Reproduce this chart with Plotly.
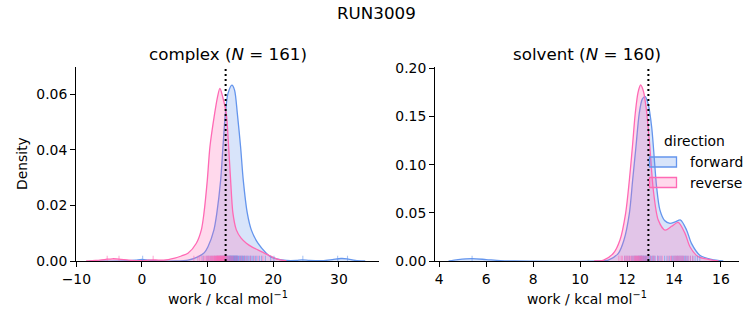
import plotly.graph_objects as go

# ---------------- data ----------------
# complex phase KDE curves
cx_fwd_x = [-8, -3, -1, 0, 1, 3, 5, 7, 8.5, 9.5, 10.05, 10.96, 11.4, 11.98, 12.33, 12.7, 13.1, 13.7,
            14.1, 14.52, 15.02, 15.43, 16.04, 16.65, 17.66, 18.93, 19.6, 20.5, 22, 23.5, 24.4, 25.5,
            27.5, 29, 30.3, 31.2, 32.5, 34]
cx_fwd_d = [0, 0, 0.0003, 0.0006, 0.0003, 0, 0, 0.0003, 0.0015, 0.003, 0.0051, 0.0112, 0.0172, 0.029,
            0.041, 0.053, 0.0603, 0.0633, 0.0615, 0.0531, 0.041, 0.029, 0.0172, 0.0112, 0.0064, 0.0028,
            0.0015, 0.0008, 0.0002, 0.0002, 0.0004, 0.0002, 0.0001, 0.0005, 0.0009, 0.0008, 0.0002, 0]
cx_rev_x = [-8.5, -7, -5.5, -4.5, -3.5, -2, -0.5, 1, 1.7, 2.5, 4, 5, 6, 7, 8.28, 9.04, 9.44, 9.95,
            10.35, 11.07, 11.5, 11.87, 12.3, 12.84, 13.2, 13.5, 13.85, 14.37, 15.1, 15.9, 16.8, 17.65,
            19.2, 20.5, 22]
cx_rev_d = [0, 0.0002, 0.0006, 0.0008, 0.0007, 0.0003, 0.0001, 0.0003, 0.0004, 0.0003, 0.0005, 0.001,
            0.0018, 0.0028, 0.0064, 0.0112, 0.0172, 0.0291, 0.0411, 0.0531, 0.059, 0.0621, 0.059, 0.053,
            0.041, 0.029, 0.0172, 0.0112, 0.0082, 0.0064, 0.005, 0.004, 0.0022, 0.0008, 0]

# solvent phase KDE curves
sv_fwd_x = [4.4, 4.8, 5.4, 6.0, 6.6, 7.2, 10.8, 11.2, 11.63, 11.87, 12.1, 12.24, 12.38, 12.52, 12.65,
            12.77, 12.9, 13.05, 13.26, 13.4, 13.6, 13.83, 14.05, 14.28, 14.54, 14.75, 15.1, 15.6, 16.1]
sv_fwd_d = [0, 0.0015, 0.0025, 0.0015, 0.0004, 0, 0, 0.001, 0.008, 0.0218, 0.0495, 0.084, 0.1186, 0.153,
            0.168, 0.1705, 0.163, 0.139, 0.077, 0.053, 0.042, 0.039, 0.0405, 0.0425, 0.032, 0.018,
            0.006, 0.0017, 0]
sv_rev_x = [10.6, 11.0, 11.42, 11.7, 11.94, 12.1, 12.23, 12.35, 12.47, 12.58, 12.7, 12.82, 12.95, 13.12,
            13.33, 13.62, 13.9, 14.18, 14.47, 14.68, 15.03, 15.46, 15.9]
sv_rev_d = [0, 0.001, 0.008, 0.0218, 0.0495, 0.084, 0.1186, 0.153, 0.175, 0.1826, 0.176, 0.158, 0.1255,
            0.0737, 0.0425, 0.032, 0.036, 0.040, 0.0287, 0.0148, 0.0045, 0.0017, 0]

# rug (individual work values, estimated)
cx_fwd_rug = [0.1, 9.3, 9.9, 10.2, 10.5, 10.8, 11.1, 11.3, 11.5, 11.7, 11.9, 12.0, 12.15, 12.3, 12.4,
              12.5, 12.65, 12.8, 12.9, 13.0, 13.05, 13.1, 13.2, 13.3, 13.35, 13.4, 13.45, 13.5, 13.55,
              13.6, 13.65, 13.7, 13.75, 13.8, 13.85, 13.9, 13.95, 14.0, 14.05, 14.1, 14.15, 14.2,
              14.25, 14.3, 14.35, 14.4, 14.45, 14.5, 14.55, 14.6, 14.7, 14.8, 14.9, 15.0, 15.1, 15.2,
              15.3, 15.4, 15.5, 15.6, 15.7, 15.85, 16.0, 16.15, 16.3, 16.5, 16.6, 16.8, 17.0, 17.3,
              17.5, 17.9, 18.2, 18.8, 19.6, 20.1, 24.5, 29.8, 31.3]
cx_rev_rug = [-5.3, -3.5, 1.7, 7.9, 8.5, 8.8, 9.1, 9.4, 9.6, 9.8, 10.0, 10.1, 10.25, 10.4, 10.5, 10.6,
              10.7, 10.8, 10.9, 11.0, 11.05, 11.1, 11.2, 11.3, 11.35, 11.4, 11.45, 11.5, 11.55, 11.6,
              11.65, 11.7, 11.75, 11.8, 11.85, 11.9, 11.95, 12.0, 12.05, 12.1, 12.15, 12.2, 12.25,
              12.3, 12.35, 12.4, 12.45, 12.5, 12.55, 12.6, 12.7, 12.8, 12.9, 13.0, 13.15, 13.3, 13.45,
              13.6, 13.8, 14.0, 14.3, 14.5, 14.9, 15.2, 15.6, 16.0, 16.5, 17.1, 17.7, 18.4]
sv_fwd_rug = [5.4, 11.9, 12.0, 12.1, 12.2, 12.25, 12.3, 12.35, 12.4, 12.45, 12.5, 12.52, 12.55, 12.58,
              12.6, 12.62, 12.65, 12.68, 12.7, 12.72, 12.75, 12.78, 12.8, 12.82, 12.85, 12.9, 12.95,
              13.0, 13.05, 13.1, 13.15, 13.2, 13.3, 13.35, 13.45, 13.6, 13.7, 13.8, 13.9, 13.95, 14.0,
              14.05, 14.1, 14.15, 14.2, 14.25, 14.3, 14.35, 14.4, 14.45, 14.5, 14.55, 14.6, 14.7,
              14.8, 14.9, 15.0, 15.1]
sv_rev_rug = [11.65, 11.75, 11.8, 11.9, 11.95, 12.0, 12.05, 12.1, 12.15, 12.2, 12.25, 12.3, 12.33, 12.35,
              12.38, 12.4, 12.43, 12.45, 12.48, 12.5, 12.52, 12.55, 12.58, 12.6, 12.63, 12.65, 12.7,
              12.75, 12.8, 12.85, 12.9, 13.0, 13.1, 13.15, 13.3, 13.4, 13.5, 13.75, 13.85, 13.9, 14.0,
              14.05, 14.1, 14.15, 14.2, 14.25, 14.3, 14.35, 14.4, 14.5, 14.6, 14.7, 14.8]

# free energy estimates (dotted lines)
dg_complex = 12.74
dg_solvent = 12.91

panel_titles = ["complex (<i>N</i> = 161)", "solvent (<i>N</i> = 160)"]
directions = ["forward", "reverse"]
legend_title = "direction"

# ---------------- styling ----------------
BLUE = "rgb(100,149,237)"
PINK = "rgb(255,105,180)"
BLUE_F = "rgba(100,149,237,0.25)"
PINK_F = "rgba(255,105,180,0.25)"
BLUE_R = "rgba(100,149,237,0.55)"
PINK_R = "rgba(255,105,180,0.55)"
FONT = "DejaVu Sans"
FS = 13.9
W, H = 753, 325

fig = go.Figure()


def add_kde(x, d, line, fill, xa, ya):
    fig.add_trace(go.Scatter(
        x=x, y=d, mode="lines", fill="tozeroy", fillcolor=fill,
        line=dict(color=line, width=1.3, shape="spline", smoothing=0.8),
        xaxis=xa, yaxis=ya, showlegend=False, hoverinfo="skip"))


def add_rug(vals, color, xa, ya, h):
    fig.add_trace(go.Scatter(
        x=vals, y=[0] * len(vals), mode="markers",
        marker=dict(size=1, color="rgba(0,0,0,0)"),
        error_y=dict(type="data", symmetric=False, array=[h] * len(vals),
                     arrayminus=[0] * len(vals), color=color, thickness=1.1, width=0),
        xaxis=xa, yaxis=ya, showlegend=False, hoverinfo="skip"))


add_kde(cx_fwd_x, cx_fwd_d, BLUE, BLUE_F, "x", "y")
add_kde(cx_rev_x, cx_rev_d, PINK, PINK_F, "x", "y")
add_rug(cx_fwd_rug, BLUE_R, "x", "y", 0.0019)
add_rug(cx_rev_rug, PINK_R, "x", "y", 0.0019)

add_kde(sv_fwd_x, sv_fwd_d, BLUE, BLUE_F, "x2", "y2")
add_kde(sv_rev_x, sv_rev_d, PINK, PINK_F, "x2", "y2")
add_rug(sv_fwd_rug, BLUE_R, "x2", "y2", 0.0055)
add_rug(sv_rev_rug, PINK_R, "x2", "y2", 0.0055)

for dg, xr in [(dg_complex, "x"), (dg_solvent, "x2")]:
    yr = "y domain" if xr == "x" else "y2 domain"
    fig.add_shape(type="line", x0=dg, x1=dg, y0=0, y1=1, xref=xr, yref=yr,
                  line=dict(color="black", width=2, dash="2px,3px"))

ax_common = dict(showline=True, linecolor="black", linewidth=1.1, ticks="outside",
                 ticklen=4.9, tickwidth=1.1, tickcolor="black", showgrid=False, zeroline=False,
                 tickfont=dict(family=FONT, size=FS, color="black"), mirror=False,
                 automargin=False)

ydom = [1 - 261 / H, 1 - 67 / H]
fig.update_layout(
    width=W, height=H, margin=dict(l=0, r=0, t=0, b=0, autoexpand=False),
    paper_bgcolor="white", plot_bgcolor="white",
    font=dict(family=FONT, size=FS, color="black"),
    xaxis=dict(domain=[76 / W, 379 / W], range=[-10.05, 36.1], tickvals=[-10, 0, 10, 20, 30],
               anchor="y", **ax_common),
    yaxis=dict(domain=ydom, range=[0, 0.0698], tickvals=[0, 0.02, 0.04, 0.06],
               tickformat=".2f", anchor="x", **ax_common),
    xaxis2=dict(domain=[435 / W, 739 / W], range=[3.82, 16.77], tickvals=[4, 6, 8, 10, 12, 14, 16],
                anchor="y2", **ax_common),
    yaxis2=dict(domain=ydom, range=[0, 0.2013], tickvals=[0, 0.05, 0.1, 0.15, 0.2],
                tickformat=".2f", anchor="x2", **ax_common),
    showlegend=False,
)

# manual legend (matplotlib-style patches)
for i, (name, line, fill) in enumerate([(directions[0], BLUE, BLUE_F), (directions[1], PINK, PINK_F)]):
    yc = 162 + 20.5 * i
    fig.add_shape(type="rect", xref="paper", yref="paper",
                  x0=649.5 / W, x1=676.5 / W, y0=1 - (yc + 5) / H, y1=1 - (yc - 5) / H,
                  fillcolor=fill, line=dict(color=line, width=1.3), layer="above")
    fig.add_annotation(text=name, x=688 / W, y=1 - yc / H, xref="paper", yref="paper",
                       xanchor="left", yanchor="middle", showarrow=False,
                       font=dict(family=FONT, size=FS, color="black"))
fig.add_annotation(text=legend_title, x=694.5 / W, y=1 - 141 / H, xref="paper", yref="paper",
                   xanchor="center", yanchor="middle", showarrow=False,
                   font=dict(family=FONT, size=FS, color="black"))

ann = [
    dict(text="RUN3009", x=376 / W, y=1 - 13 / H, size=16.7),
    dict(text=panel_titles[0], x=227.5 / W, y=1 - 54 / H, size=16.7),
    dict(text=panel_titles[1], x=587 / W, y=1 - 54 / H, size=16.7),
    dict(text="work / kcal mol<sup>−1</sup>", x=228 / W, y=1 - 298 / H, size=FS),
    dict(text="work / kcal mol<sup>−1</sup>", x=587 / W, y=1 - 298 / H, size=FS),
]
for a in ann:
    fig.add_annotation(text=a["text"], x=a["x"], y=a["y"], xref="paper", yref="paper",
                       xanchor="center", yanchor="middle", showarrow=False,
                       font=dict(family=FONT, size=a["size"], color="black"))
fig.add_annotation(text="Density", x=22 / W, y=1 - 164 / H, xref="paper", yref="paper",
                   xanchor="center", yanchor="middle", showarrow=False, textangle=-90,
                   font=dict(family=FONT, size=FS, color="black"))

fig.write_html("out.html")
